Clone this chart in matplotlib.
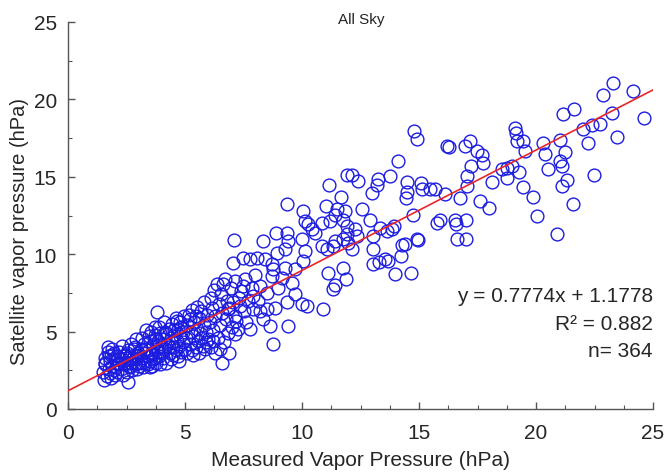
import matplotlib
matplotlib.use("Agg")
import matplotlib.pyplot as plt
from matplotlib.ticker import MultipleLocator

# ---- data ----
# dense cluster, low vapour pressure
dense_x = [1.5, 1.55, 1.6, 1.6, 1.65, 1.7, 1.7, 1.75, 1.8, 1.8, 1.85, 1.9, 1.9, 1.95, 2.0, 2.0, 1.6, 1.75, 1.85, 1.95,
           2.05, 2.1, 2.1, 2.15, 2.2, 2.25, 2.3, 2.3, 2.35, 2.4, 2.45, 2.5, 2.5, 2.55, 2.58, 2.6, 2.65, 2.7, 2.7, 2.75,
           2.8, 2.8, 2.85, 2.9, 2.9, 2.95, 3.0, 3.0, 2.2, 2.4, 2.6, 2.75, 2.85, 2.95, 2.5,
           3.05, 3.1, 3.1, 3.15, 3.2, 3.2, 3.25, 3.3, 3.35, 3.4, 3.4, 3.45, 3.5, 3.5, 3.55, 3.6, 3.6, 3.65, 3.7, 3.7,
           3.75, 3.8, 3.8, 3.85, 3.9, 3.9, 3.95, 4.0, 4.0, 3.3, 3.45, 3.55, 3.65, 3.75, 3.85, 3.95, 3.15, 3.5, 3.7, 3.9,
           4.05, 4.1, 4.1, 4.15, 4.2, 4.2, 4.25, 4.3, 4.35, 4.4, 4.4, 4.45, 4.5, 4.5, 4.55, 4.6, 4.6, 4.65, 4.7, 4.7,
           4.75, 4.8, 4.8, 4.85, 4.9, 4.9, 4.95, 5.0, 4.3, 4.55, 4.75, 4.85, 4.15, 4.45, 4.65,
           5.05, 5.1, 5.1, 5.15, 5.2, 5.25, 5.3, 5.3, 5.35, 5.4, 5.45, 5.5, 5.5, 5.55, 5.6, 5.6, 5.65, 5.7, 5.75, 5.8,
           5.8, 5.85, 5.9, 5.95, 6.0, 5.2, 5.45, 5.7, 5.9, 5.35,
           6.05, 6.1, 6.1, 6.15, 6.2, 6.25, 6.3, 6.3, 6.35, 6.4, 6.45, 6.5, 6.55, 6.57, 6.6, 6.65, 6.7, 6.75, 6.8, 6.85,
           6.9, 6.95, 7.0, 7.06, 7.1, 7.05, 6.2, 6.5, 6.9]
dense_y = [2.4, 1.85, 2.9, 3.3, 2.1, 3.7, 4.0, 2.6, 3.1, 2.3, 3.5, 2.8, 3.9, 2.5, 3.2, 2.2, 3.0, 3.4, 2.0, 3.6,
           2.7, 3.4, 2.4, 3.0, 3.7, 2.6, 3.2, 4.1, 2.2, 2.9, 3.5, 3.0, 2.4, 3.8, 1.75, 3.3, 2.7, 4.2, 3.0, 2.5,
           3.5, 3.9, 2.9, 3.2, 4.5, 2.6, 3.6, 3.0, 2.9, 3.4, 2.8, 3.2, 4.0, 3.4, 3.6,
           2.8, 3.9, 3.3, 4.6, 2.7, 3.6, 4.2, 3.0, 5.1, 3.4, 2.9, 3.8, 4.4, 3.1, 5.0, 3.6, 2.8, 4.1, 3.3, 4.8,
           3.0, 6.25, 3.9, 4.4, 3.4, 5.3, 2.9, 4.0, 3.6, 3.9, 4.7, 3.5, 3.2, 4.5, 3.7, 4.9, 3.0, 2.7, 5.3, 4.2,
           3.3, 4.5, 5.6, 3.9, 3.0, 4.9, 4.2, 5.2, 3.6, 4.6, 3.2, 5.5, 4.0, 3.5, 4.8, 5.9, 3.8, 4.4, 5.2, 3.4,
           4.1, 5.6, 4.7, 3.7, 5.0, 4.3, 6.0, 3.9, 4.0, 5.1, 3.1, 5.3, 5.0, 4.3, 5.7,
           4.6, 5.4, 3.6, 6.1, 4.2, 5.0, 3.8, 6.4, 4.7, 5.6, 4.0, 5.2, 6.6, 4.4, 3.6, 5.9, 4.9, 6.3, 4.1, 5.4,
           6.9, 3.9, 5.0, 6.1, 4.5, 5.8, 6.0, 4.6, 4.3, 3.5,
           5.6, 7.2, 4.0, 6.5, 5.1, 7.7, 3.6, 6.0, 8.05, 4.6, 6.8, 5.4, 7.4, 3.0, 6.2, 4.3, 8.4, 5.8, 7.0, 4.9,
           6.5, 7.8, 5.3, 9.45, 10.9, 6.9, 4.4, 3.9, 3.6]

# middle range
mid_x = [11.17, 11.65, 9.35, 10.03, 11.03, 11.48, 11.84, 10.13, 10.27, 10.41, 10.56, 10.84, 11.2, 11.41,
         8.89, 9.35, 9.42, 9.99, 9.27, 10.13, 10.06, 10.84, 11.05, 11.34, 11.41, 11.77,
         8.35, 8.92, 7.49, 7.78, 8.06, 8.42, 8.71, 8.77, 9.27, 9.7, 11.77, 11.13, 11.41, 11.34, 11.88,
         7.99, 8.71, 9.13, 9.56, 6.64, 7.14, 7.49, 7.85, 8.21, 8.99, 8.49, 9.35, 9.7, 9.99, 10.2, 10.91,
         7.35, 7.92, 8.21, 8.49, 8.85, 6.85, 7.14, 8.35, 8.63, 7.78, 9.42, 7.14, 8.77,
         7.3, 7.5, 7.6, 7.25, 7.7, 7.4, 7.9, 7.55, 8.1, 7.2, 11.91]
mid_y = [14.5, 13.7, 13.24, 12.82, 13.1, 12.95, 12.78, 12.13, 11.92, 11.6, 11.38, 12.03, 12.13, 12.56,
         11.38, 11.38, 10.84, 10.95, 10.35, 10.2, 9.55, 10.52, 10.35, 10.52, 10.84, 10.95,
         10.84, 10.09, 9.77, 9.71, 9.77, 9.66, 9.34, 9.02, 9.13, 9.07, 9.13, 8.81, 8.0, 7.73, 8.42,
         8.63, 8.59, 8.49, 8.16, 8.05, 8.27, 7.95, 7.84, 7.95, 7.84, 7.52, 6.91, 7.41, 6.77, 6.66, 6.44,
         6.66, 6.44, 6.33, 6.44, 6.55, 6.44, 6.01, 5.8, 5.37, 5.15, 5.37, 4.83, 4.19,
         7.2, 6.3, 5.6, 5.2, 7.0, 7.6, 7.3, 8.4, 7.0, 5.7, 15.14]

# upper-middle range
upper_x = [14.79, 14.93, 16.18, 16.3, 14.12, 12.12, 12.41, 13.26, 13.76, 13.19, 12.98, 14.47, 14.47, 14.44,
           15.09, 15.11, 15.47, 15.68, 16.11, 12.55, 14.73, 15.75, 15.9, 16.54, 16.58, 17.0, 16.61, 17.0,
           12.9, 11.77, 11.91, 12.26, 11.91, 12.34, 11.98, 12.12, 13.05, 13.33, 13.62, 13.83, 13.93, 13.05,
           14.26, 14.4, 14.9, 14.95, 14.23, 13.55, 13.3, 13.05, 13.69, 13.97, 14.64]
upper_y = [17.93, 17.44, 17.01, 16.95, 16.04, 15.14, 14.71, 14.86, 15.03, 14.5, 13.96, 14.65, 14.0, 13.64,
           14.6, 14.18, 14.18, 14.22, 13.9, 12.95, 12.56, 12.03, 12.24, 12.24, 11.98, 12.24, 10.95, 11.0,
           12.24, 12.24, 11.81, 11.6, 11.28, 11.17, 10.74, 10.31, 11.17, 11.71, 11.49, 11.64, 11.81, 10.31,
           10.57, 10.63, 11.0, 10.9, 9.88, 9.66, 9.51, 9.34, 9.55, 8.74, 8.81]

# high range
high_x = [23.29, 22.88, 24.13, 24.63, 21.64, 21.14, 23.23, 22.74, 22.38, 22.0, 23.45, 22.21, 21.03, 20.31,
          20.38, 21.24, 21.03, 21.1, 20.53, 22.49, 21.31, 21.1, 21.6, 20.88, 20.06, 19.86, 19.46, 19.29,
          19.1, 19.15, 19.2, 19.43, 19.53, 18.96, 18.74, 18.53, 18.74, 18.13, 17.61, 18.0, 17.18, 16.97,
          17.47, 17.68, 17.72, 17.22, 17.04, 17.04, 16.75]
high_y = [21.09, 20.28, 20.53, 18.79, 19.37, 19.07, 19.11, 18.43, 18.32, 18.1, 17.55, 17.18, 17.4, 17.18,
          16.49, 16.58, 16.04, 15.68, 15.53, 15.14, 14.82, 14.39, 13.27, 11.28, 12.46, 13.7, 14.32, 15.29,
          18.15, 17.83, 17.29, 17.29, 16.69, 15.68, 15.57, 15.51, 14.93, 14.67, 13.42, 13.0, 17.29, 16.97,
          16.64, 16.43, 15.9, 15.68, 15.03, 14.39, 13.64]

slope, intercept = 0.7774, 1.1778
fit_x = [0, 25]
stats_lines = ["y = 0.7774x + 1.1778", "R\u00b2 = 0.882", "n= 364"]
title = "All Sky"
xlabel = "Measured Vapor Pressure (hPa)"
ylabel = "Satellite vapor pressure (hPa)"

plt.rcParams['font.family'] = ['Liberation Sans', 'DejaVu Sans']

fig = plt.figure(figsize=(6.66, 4.77), dpi=100)
ax = fig.add_axes([68 / 666, 1 - 410 / 477, (653 - 68) / 666, (410 - 23) / 477])

xs = dense_x + mid_x + upper_x + high_x
ys = dense_y + mid_y + upper_y + high_y
ax.plot(xs, ys, linestyle='none', marker='o', markersize=9.2, markerfacecolor='none',
        markeredgecolor='#1c1ce0', markeredgewidth=1.0, zorder=2)
ax.plot(fit_x, [slope * v + intercept for v in fit_x], color='#e8262a', linewidth=1.2, zorder=3)

ax.set_xlim(0, 25)
ax.set_ylim(0, 25)
ax.xaxis.set_major_locator(MultipleLocator(5))
ax.yaxis.set_major_locator(MultipleLocator(5))
ax.xaxis.set_minor_locator(MultipleLocator(1.25))
ax.yaxis.set_minor_locator(MultipleLocator(2.5))
for s in ['top', 'right']:
    ax.spines[s].set_visible(False)
for s in ['left', 'bottom']:
    ax.spines[s].set_color('#555555')
    ax.spines[s].set_linewidth(1.0)
ax.tick_params(which='major', direction='in', length=5, width=1.0, colors='#555555',
               labelcolor='#262626', labelsize=15)
ax.tick_params(axis='x', which='major', pad=10)
ax.tick_params(axis='y', which='major', pad=8)
ax.tick_params(which='minor', direction='in', length=3, width=0.8, colors='#555555')

ax.set_xlabel(xlabel, fontsize=15, color='#262626', labelpad=6)
ax.set_ylabel(ylabel, fontsize=14.5, color='#262626')
ax.yaxis.set_label_coords(-0.067, 0.46)
fig.text(361 / 666, 1 - 20 / 477, title, ha='center', va='center', fontsize=11, color='#262626')

ty = [7.3, 5.5, 3.75]
for t, yv in zip(stats_lines, ty):
    ax.text(25.0, yv, t, ha='right', va='center', fontsize=15, color='#262626')

fig.savefig('out.png', dpi=100)
